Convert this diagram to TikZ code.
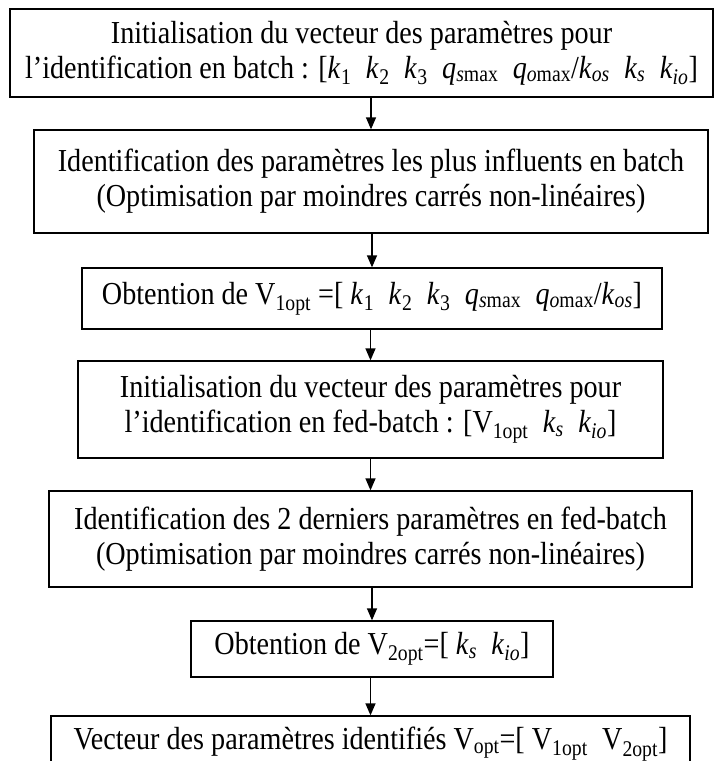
\documentclass[tikz,border=0pt]{standalone}
\usepackage{fontspec}
\setmainfont[FakeStretch=0.88]{Liberation Serif}
\usetikzlibrary{arrows.meta}
\newcommand{\vi}[2]{\textit{#1}\textsubscript{\textit{#2}}}
\newcommand{\gap}{\hspace{0.45em}}

\begin{document}
\begin{tikzpicture}[x=1pt,y=-1pt,
  box/.style={draw,line width=1.3pt,align=center,inner sep=0pt,font=\fontsize{32}{35}\selectfont},
  arr/.style={line width=1.3pt,-{Triangle[length=12pt,width=10pt]}}]
\useasboundingbox (0,0) rectangle (720,769);
\node[box,minimum width=703,minimum height=88] (b1) at (361.5,53)
  {Initialisation du vecteur des paramètres pour\\
   l’identification en batch : [\vi{k}{}\textsubscript{1}\gap\vi{k}{}\textsubscript{2}\gap\vi{k}{}\textsubscript{3}\gap\textit{q}\textsubscript{\textit{s}max}\gap\textit{q}\textsubscript{\textit{o}max}/\vi{k}{os}\gap\vi{k}{s}\gap\vi{k}{io}]};
\node[box,minimum width=674,minimum height=103] (b2) at (371,181.5)
  {Identification des paramètres les plus influents en batch\\
   (Optimisation par moindres carrés non-linéaires)};
\node[box,minimum width=580,minimum height=61] (b3) at (372,298.5)
  {Obtention de V\textsubscript{1opt} =[ \vi{k}{}\textsubscript{1}\gap\vi{k}{}\textsubscript{2}\gap\vi{k}{}\textsubscript{3}\gap\textit{q}\textsubscript{\textit{s}max}\gap\textit{q}\textsubscript{\textit{o}max}/\vi{k}{os}]};
\node[box,minimum width=585,minimum height=97] (b4) at (370.5,409.5)
  {Initialisation du vecteur des paramètres pour\\
   l’identification en fed-batch : [V\textsubscript{1opt}\gap\vi{k}{s}\gap\vi{k}{io}]};
\node[box,minimum width=643,minimum height=96] (b5) at (370.5,539)
  {Identification des 2 derniers paramètres en fed-batch\\
   (Optimisation par moindres carrés non-linéaires)};
\node[box,minimum width=362,minimum height=56] (b6) at (372,649)
  {Obtention de V\textsubscript{2opt}=[ \vi{k}{s}\gap\vi{k}{io}]};
\begin{scope}
\clip (0,0) rectangle (720,760);
\node[box,minimum width=639,minimum height=56] (b7) at (370.5,744)
  {Vecteur des paramètres identifiés V\textsubscript{opt}=[ V\textsubscript{1opt}\gap V\textsubscript{2opt}]};
\end{scope}
\foreach \a/\b in {b1/b2,b2/b3,b3/b4,b4/b5,b5/b6,b6/b7}
  \draw[arr] (\b.north |- \a.south) -- (\b.north);
\end{tikzpicture}
\end{document}
